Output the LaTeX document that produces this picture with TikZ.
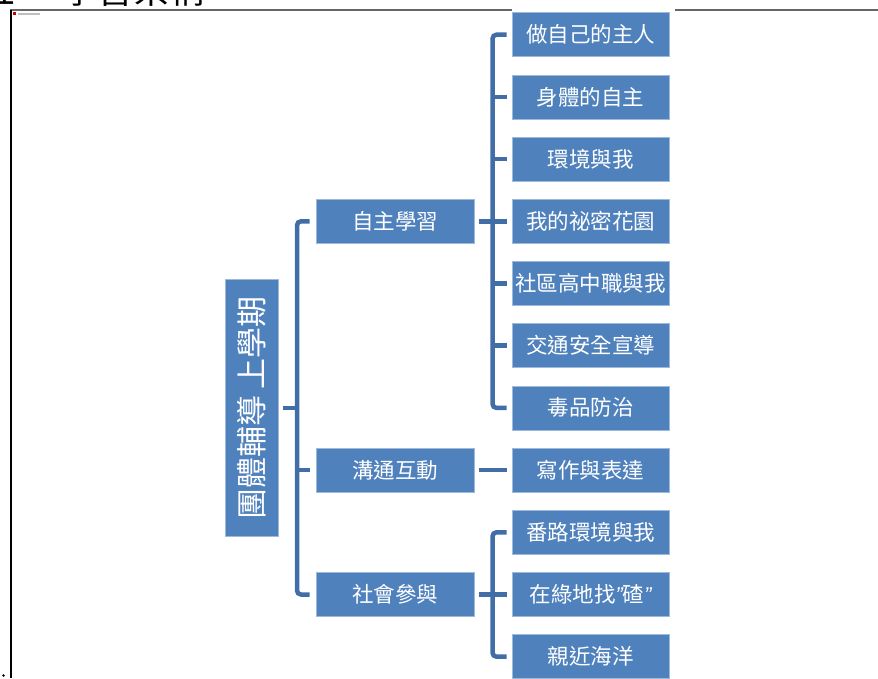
\documentclass[tikz,border=0pt]{standalone}
\usepackage{fontspec}
\setmainfont{Noto Sans CJK TC}
\newfontfamily\quotefont{Liberation Sans}
\usetikzlibrary{calc}
\definecolor{boxblue}{HTML}{4F81BD}
\definecolor{boxedge}{HTML}{9DB9DC}
\definecolor{brblue}{HTML}{416EA6}
\tikzset{
  leafbox/.style={rectangle, fill=boxblue, draw=boxedge, line width=0.8pt,
    minimum width=157pt, minimum height=44pt, inner sep=0pt, text=white,
    font=\fontsize{21.5}{24}\selectfont},
  parentbox/.style={leafbox, minimum width=158pt},
  rootbox/.style={rectangle, fill=boxblue, draw=boxedge, line width=0.8pt,
    minimum width=257pt, minimum height=53pt, inner sep=0pt, text=white,
    rotate=90, font=\fontsize{31}{34}\selectfont},
  br/.style={draw=brblue, line width=4.5pt, rounded corners=4pt},
  frameline/.style={line width=1.6pt}
}
\begin{document}
\begin{tikzpicture}[x=1pt,y=-1pt]
\useasboundingbox (0,0) rectangle (878,678);
% frame
\draw[frameline, draw=black!60] (10,10) -- (512,10);
\draw[frameline, draw=black!60] (675,10) -- (878,10);
\draw[frameline, draw=black] (11,10) -- (11,678);
\fill[red!80!black] (13,12) rectangle (16,15);
\fill[black!25] (18,12.5) rectangle (40,14.5);
\fill[black] (3.5,675.5) circle (1.3pt);
% clipped heading
\node[anchor=base, inner sep=0pt, font=\fontsize{36}{40}\selectfont] (hd1) at (16,3) {五、};
\node[anchor=base west, inner sep=0pt, font=\fontsize{36}{40}\selectfont] (hd2) at (61,3) {學習架構};
% root
\node[rootbox] (root) at (251.5,408) {團體輔導 上學期};
% parents
\node[parentbox] (p1) at (395,221.3) {自主學習};
\node[parentbox] (p2) at (395,470.1) {溝通互動};
\node[parentbox] (p3) at (395,594.5) {社會參與};
% leaves
\node[leafbox] (l1) at (590.5,34.7) {做自己的主人};
\node[leafbox] (l2) at (590.5,96.9) {身體的自主};
\node[leafbox] (l3) at (590.5,159.1) {環境與我};
\node[leafbox] (l4) at (590.5,221.3) {我的祕密花園};
\node[leafbox] (l5) at (590.5,283.5) {社區高中職與我};
\node[leafbox] (l6) at (590.5,345.7) {交通安全宣導};
\node[leafbox] (l7) at (590.5,407.9) {毒品防治};
\node[leafbox] (l8) at (590.5,470.1) {寫作與表達};
\node[leafbox] (l9) at (590.5,532.3) {番路環境與我};
\node[leafbox] (l10) at (590.5,594.5) {在綠地找{\quotefont\itshape ”}碴{\quotefont\itshape ”}};
\node[leafbox] (l11) at (590.5,656.7) {親近海洋};
% bracket spines
\coordinate (s0) at (297,0);
\coordinate (s1) at (492.5,0);
% level 1 bracket
\draw[br] ([xshift=-6pt]p1.west) -- (p1.west -| s0) -- (p3.west -| s0) -- ([xshift=-6pt]p3.west);
\draw[br] ([xshift=5pt]root.south) -- (root.south -| s0);
\draw[br] (p2.west -| s0) -- ([xshift=-6pt]p2.west);
% level 2 bracket: p1
\draw[br] ([xshift=-5pt]l1.west) -- (l1.west -| s1) -- (l7.west -| s1) -- ([xshift=-5pt]l7.west);
\draw[br] ([xshift=5pt]p1.east) -- (p1.east -| s1);
\foreach \n in {l2,l3,l4,l5,l6}{
  \draw[br] (\n.west -| s1) -- ([xshift=-5pt]\n.west);
}
% p2
\draw[br] ([xshift=5pt]p2.east) -- ([xshift=-5pt]l8.west);
% p3
\draw[br] ([xshift=-5pt]l9.west) -- (l9.west -| s1) -- (l11.west -| s1) -- ([xshift=-5pt]l11.west);
\draw[br] ([xshift=5pt]p3.east) -- (p3.east -| s1);
\draw[br] (l10.west -| s1) -- ([xshift=-5pt]l10.west);
\end{tikzpicture}
\end{document}
